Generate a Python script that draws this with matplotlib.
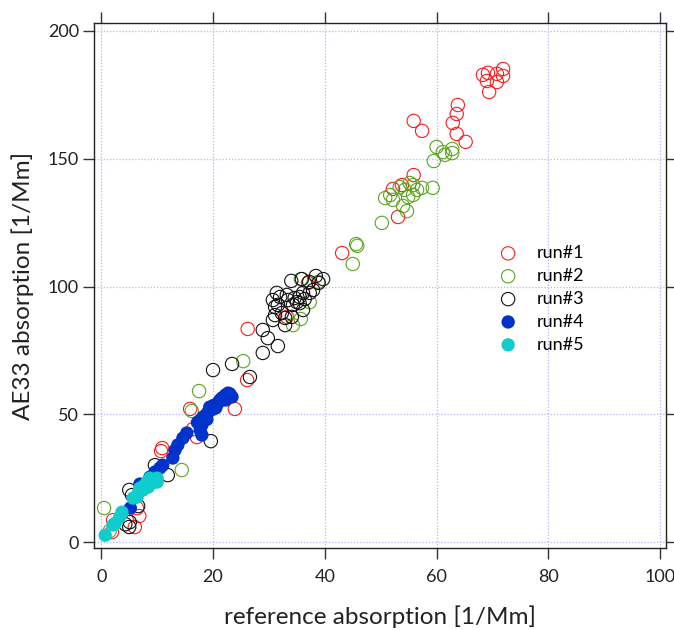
import matplotlib
matplotlib.use("Agg")
import matplotlib.pyplot as plt
import numpy as np

plt.rcParams["font.family"] = ["Lato", "DejaVu Sans"]

# run#1 (red, open)
run1_x = [68.3, 69.2, 69.0, 70.8, 70.8, 71.9, 71.9, 69.4,
          63.8, 63.6, 62.9, 63.6, 65.2, 55.9, 57.4, 55.9, 53.8, 52.2, 53.1,
          43.1, 26.2, 33.2, 37.0, 26.1,
          15.9, 23.9, 16.4, 17.1, 10.9, 10.7,
          6.4, 6.8, 2.1, 1.9, 6.0]
run1_y = [182.8, 183.6, 180.4, 183.2, 180.0, 185.1, 182.4, 176.1,
          171.0, 167.5, 164.0, 159.7, 156.6, 164.8, 160.9, 143.6, 139.7, 138.2, 127.2,
          113.1, 83.4, 88.1, 101.4, 63.4,
          52.1, 52.1, 44.2, 41.1, 36.8, 35.6,
          13.3, 10.2, 8.6, 3.9, 5.9]

# run#2 (green, open)
run2_x = [60.0, 61.1, 62.8, 62.8, 59.5, 61.5, 59.3, 50.2, 54.7, 54.0, 50.8,
          52.2, 51.7, 53.4, 54.9, 55.8, 56.5, 57.4, 55.8, 55.2, 54.3,
          45.6, 45.8, 45.0, 35.7, 38.8, 37.3, 35.7, 34.3, 25.4,
          17.5, 16.2, 14.4, 0.5, 1.5]
run2_y = [154.6, 152.6, 153.8, 152.2, 149.1, 151.5, 138.6, 124.9, 129.5, 131.5, 134.6,
          133.9, 135.8, 138.9, 135.0, 139.7, 137.8, 138.6, 135.8, 140.5, 137.8,
          116.6, 115.9, 108.8, 102.9, 101.8, 93.9, 87.3, 84.9, 70.8,
          59.1, 51.3, 28.2, 13.3, 4.3]

# run#3 (black, open)
run3_x = [34.0, 35.9, 38.4, 39.7, 38.9, 37.2, 31.4, 30.7, 32.0, 33.2, 33.4,
          34.6, 35.0, 35.5, 36.1, 36.4, 37.3, 37.9, 35.5, 34.3, 31.1, 31.6,
          31.1, 30.7, 32.3, 32.9, 32.9, 34.1, 36.1, 28.9, 29.8, 31.6, 28.9,
          23.4, 26.6, 20.0, 19.6, 9.6, 11.9, 5.0, 5.5, 6.6, 5.1, 5.0, 4.3]
run3_y = [102.2, 102.9, 104.1, 102.9, 101.4, 101.8, 97.5, 94.7, 95.9, 96.7, 94.7,
          95.5, 93.9, 95.9, 97.5, 95.1, 97.5, 98.6, 93.5, 92.8, 92.0, 92.8,
          88.8, 86.9, 89.6, 87.7, 84.9, 88.1, 90.8, 83.0, 79.8, 76.7, 74.0,
          69.7, 64.6, 67.3, 39.5, 30.1, 26.2, 20.4, 18.4, 14.1, 7.8, 5.9, 7.0]

# run#4 (blue, filled)
run4_x = [22.2, 22.7, 23.4, 21.6, 20.9, 19.4, 19.1, 18.2, 17.7, 18.0, 17.7,
          18.0, 15.3, 14.6, 13.7, 13.2, 12.8, 11.0, 10.5, 9.6, 8.7, 5.2,
          20.1, 21.2, 22.3, 23.0, 18.6, 19.8, 20.5, 18.9, 17.2, 6.9]
run4_y = [57.5, 58.3, 56.8, 56.4, 54.4, 52.8, 50.9, 48.9, 47.7, 45.8, 43.8,
          41.9, 42.7, 40.7, 38.0, 36.0, 32.9, 30.1, 29.0, 27.4, 25.4, 13.3,
          53.5, 55.5, 55.6, 58.0, 49.5, 51.8, 52.5, 48.0, 46.8, 22.7]

# run#5 (cyan, filled)
run5_x = [8.7, 9.6, 8.2, 7.8, 6.9, 6.6, 6.4, 7.5, 8.4, 9.1, 10.0, 10.0,
          5.7, 3.7, 3.3, 2.5, 2.1, 0.7]
run5_y = [25.0, 24.3, 23.5, 22.3, 21.1, 19.2, 17.6, 20.4, 21.5, 23.1, 25.0, 23.5,
          17.2, 11.7, 9.8, 7.4, 6.7, 2.7]

fig = plt.figure(figsize=(6.74, 6.30), dpi=100)
ax = fig.add_axes([0.1399, 0.1306, 0.8478, 0.8321])

ms = 92
ax.scatter(run1_x, run1_y, s=ms, facecolors="none", edgecolors="#ff1a1a", linewidths=0.8, label="run#1", zorder=3)
ax.scatter(run2_x, run2_y, s=ms, facecolors="none", edgecolors="#5aa51e", linewidths=0.8, label="run#2", zorder=3)
ax.scatter(run3_x, run3_y, s=ms, facecolors="none", edgecolors="#111111", linewidths=0.8, label="run#3", zorder=3)
ax.scatter(run4_x, run4_y, s=ms, color="#0033cc", edgecolors="none", label="run#4", zorder=3)
ax.scatter(run5_x, run5_y, s=ms, color="#11cccc", edgecolors="none", label="run#5", zorder=3)

ax.set_xlim(-1.25, 101)
ax.set_ylim(-2.2, 202.9)
ax.set_xticks([0, 20, 40, 60, 80, 100])
ax.set_yticks([0, 50, 100, 150, 200])
ax.grid(True, color="#b4b4ff", linestyle=(0, (1, 1.5)), linewidth=0.9)
ax.set_axisbelow(True)

for s in ax.spines.values():
    s.set_color("#222222")
    s.set_linewidth(1.0)
ax.tick_params(axis="both", direction="out", length=8, width=1, color="#333333",
               top=True, right=True, labelsize=13, labelcolor="#222222")
ax.tick_params(axis="x", pad=7)
ax.tick_params(axis="y", pad=3)

ax.set_xlabel("reference absorption [1/Mm]", fontsize=17.5, labelpad=15, color="#222222")
ax.set_ylabel("AE33 absorption [1/Mm]", fontsize=17.5, labelpad=10, color="#222222")

ax.legend(loc="upper left", bbox_to_anchor=(0.68, 0.591), frameon=False,
          fontsize=13, handletextpad=0.6, labelspacing=0.38, borderaxespad=0)

fig.savefig("out.png", dpi=100)
